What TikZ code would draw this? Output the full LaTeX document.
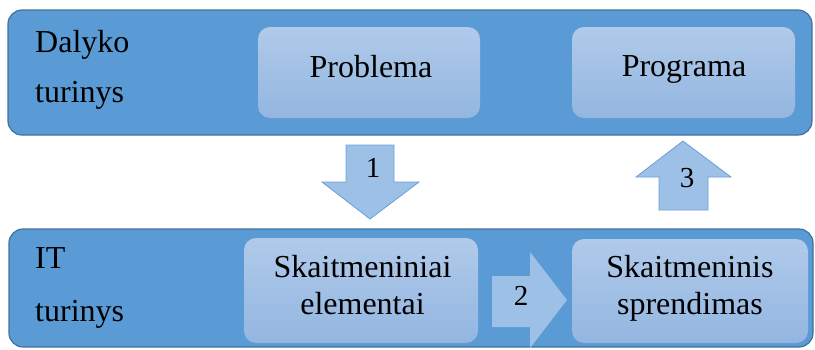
\documentclass[tikz,border=0pt]{standalone}
\usepackage{fontspec}
\setmainfont{Liberation Serif}
\usetikzlibrary{shapes.arrows,positioning}
\definecolor{bandfill}{HTML}{5B9BD5}
\definecolor{banddraw}{HTML}{41719C}
\definecolor{boxtop}{HTML}{B0CAEA}
\definecolor{boxbot}{HTML}{93B6E0}
\definecolor{arrfill}{HTML}{9DC0E6}
\definecolor{arrdraw}{HTML}{6A9FD6}
\tikzset{
  band/.style={draw=banddraw,line width=1.2pt,fill=bandfill,rounded corners=14pt},
  inbox/.style={rounded corners=12pt,top color=boxtop,bottom color=boxbot,draw=none},
  arr/.style={draw=arrdraw,line width=0.8pt,fill=arrfill,line join=miter},
  lbl/.style={font=\fontsize{32}{38}\selectfont,anchor=base west,inner sep=0pt},
  txt/.style={font=\fontsize{32}{37}\selectfont,anchor=base,inner sep=0pt},
  num/.style={font=\fontsize{29}{34}\selectfont,anchor=base,inner sep=0pt}
}
\begin{document}
\begin{tikzpicture}[x=1pt,y=-1pt]
\useasboundingbox (0,0) rectangle (815,349);
% bands
\draw[band] (8,10) rectangle (812,135);
\draw[band] (9,229) rectangle (813,347);
% inner boxes
\node[inbox,minimum width=222pt,minimum height=91pt] (prob) at (369,72.5) {};
\node[inbox,minimum width=223pt,minimum height=91pt] (prog) at (683.5,72.5) {};
\node[inbox,minimum width=234pt,minimum height=105pt] (selem) at (361,290.5) {};
\node[inbox,minimum width=236pt,minimum height=104pt] (ssol) at (690,291) {};
\node[txt] (tprob) at (371,77) {Problema};
\node[txt] (tprog) at (684,76) {Programa};
\node[txt] (tsel1) at (362.5,277) {Skaitmeniniai};
\node[txt] (tsel2) at (362.5,314) {elementai};
\node[txt] (tsol1) at (690,277) {Skaitmeninis};
\node[txt] (tsol2) at (690,314) {sprendimas};
% band labels
\node[lbl] (dal) at (35,52) {Dalyko};
\node[lbl] (tur1) at (35,102) {turinys};
\node[lbl] (it) at (35,268) {IT};
\node[lbl] (tur2) at (35,321) {turinys};
% arrows
\draw[arr] (346,145) -- (394,145) -- (394,182) -- (419,182) -- (370,219) -- (322,182) -- (346,182) -- cycle;
\node[num] (n1) at (373,177) {1};
\draw[arr] (659,210) -- (708,210) -- (708,177) -- (731,177) -- (683,141) -- (636,177) -- (659,177) -- cycle;
\node[num] (n3) at (687,187) {3};
\draw[arr,draw=none] (492,276) -- (530,276) -- (530,252) -- (567,300) -- (530,348) -- (530,327) -- (492,327) -- cycle;
\node[num] (n2) at (521,305) {2};
\end{tikzpicture}
\end{document}
